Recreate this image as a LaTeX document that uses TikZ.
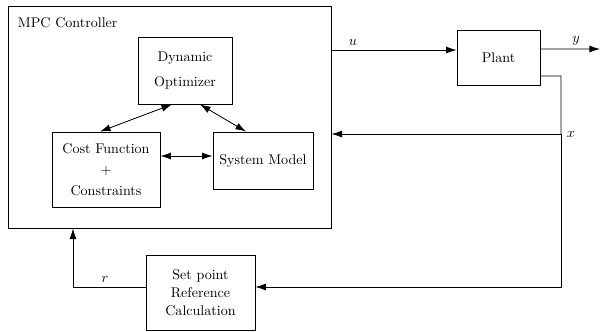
\documentclass[tikz,border=0pt]{standalone}
\usetikzlibrary{arrows.meta}
\begin{document}
\begin{tikzpicture}[x=0.025cm,y=-0.025cm,>={Latex[length=7.5pt,width=5pt]},
	block/.style={draw,semithick,align=center},
	link/.style={semithick}]
	\useasboundingbox (0,0) rectangle (600,331);
	\node[block,minimum width=8.075cm,minimum height=5.55cm] (mpc) at (169.5,117) {};
	\node[anchor=west] (mpctitle) at (13,23) {MPC Controller};
	\node[block,minimum width=2.35cm,minimum height=1.675cm] (dyn) at (185,70.5) {Dynamic\\[6pt]Optimizer};
	\node[block,minimum width=2.7cm,minimum height=1.875cm] (cost) at (106,169.5) {Cost Function\\[3pt]+\\[3pt]Constraints};
	\node[block,minimum width=2.5cm,minimum height=1.425cm] (sysm) at (263,160.5) {System Model};
	\node[block,minimum width=2.075cm,minimum height=1.375cm] (plant) at (498.5,57.5) {Plant};
	\node[block,minimum width=2.725cm,minimum height=1.875cm] (setp) at (200.5,292.5) {Set point\\[1pt]Reference\\[1pt]Calculation};
	\draw[link,<->] ([xshift=-0.15cm]cost.north) -- ([xshift=-0.325cm]dyn.south);
	\draw[link,<->] ([xshift=0.375cm]dyn.south) -- ([xshift=-0.425cm]sysm.north);
	\draw[link,<->] ([yshift=0.1125cm]sysm.west -| cost.east) -- ([yshift=0.1125cm]sysm.west);
	\draw[link,->] ([yshift=0.1875cm]plant.west -| mpc.east) -- ([yshift=0.1875cm]plant.west);
	\node (ulabel) at (353,42) {$u$};
	\coordinate (yout) at (600,49);
	\draw[link,->] ([yshift=0.2125cm]plant.east) -- (yout);
	\node (ylabel) at (576,41) {$y$};
	\coordinate (fbtop) at (561,76);
	\coordinate (xtap) at (561,134);
	\draw[link] ([yshift=-0.4625cm]plant.east) -- (fbtop) -- (xtap);
	\draw[link,->] (xtap) -- (xtap -| mpc.east);
	\node (xlabel) at (571,134) {$x$};
	\draw[link,->] (xtap) |- ([yshift=0.1375cm]setp.east);
	\draw[link,->] ([yshift=0.1375cm]setp.west) -| ([xshift=-2.4125cm]mpc.south);
	\node (rlabel) at (105,279) {$r$};
\end{tikzpicture}
\end{document}
